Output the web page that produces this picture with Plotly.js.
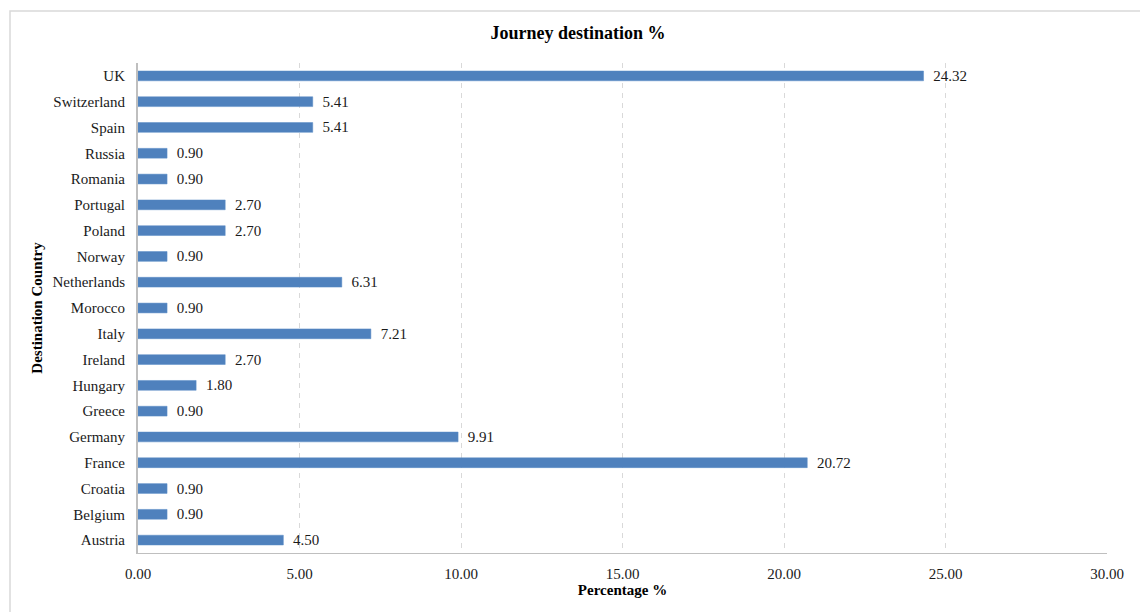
<!DOCTYPE html>
<html>
<head>
<meta charset="utf-8">
<script src="https://cdn.plot.ly/plotly-3.0.1.min.js"></script>
<style>
  html, body { margin: 0; padding: 0; background: #ffffff; }
  #chart { width: 1140px; height: 612px; }
</style>
</head>
<body>
<div id="chart"></div>
<script>
// Share of journeys by destination country (%), listed bottom to top
const countries = [
  "Austria", "Belgium", "Croatia", "France", "Germany", "Greece", "Hungary",
  "Ireland", "Italy", "Morocco", "Netherlands", "Norway", "Poland", "Portugal",
  "Romania", "Russia", "Spain", "Switzerland", "UK"
];
const percentages = [
  4.50, 0.90, 0.90, 20.72, 9.91, 0.90, 1.80,
  2.70, 7.21, 0.90, 6.31, 0.90, 2.70, 2.70,
  0.90, 0.90, 5.41, 5.41, 24.32
];
const xTicks = [0, 5, 10, 15, 20, 25, 30];
const xTickLabels = ["0.00", "5.00", "10.00", "15.00", "20.00", "25.00", "30.00"];

const serif = "'Liberation Serif', 'Times New Roman', serif";

const trace = {
  type: "bar",
  orientation: "h",
  x: percentages,
  y: countries,
  width: 0.38,
  marker: { color: "#4f81bd", line: { color: "#5b8cc6", width: 0.5 } },
  text: percentages.map(v => "\u00a0\u2009" + v.toFixed(2)),
  textposition: "outside",
  constraintext: "none",
  cliponaxis: false,
  textfont: { family: serif, size: 15, color: "#1a1a1a" },
  hoverinfo: "x+y"
};

const layout = {
  width: 1140,
  height: 612,
  margin: { l: 138, r: 33, t: 63, b: 59 },
  paper_bgcolor: "#ffffff",
  plot_bgcolor: "#ffffff",
  showlegend: false,
  font: { family: serif, size: 15, color: "#1a1a1a" },
  title: {
    text: "<b>Journey destination %</b>",
    font: { family: serif, size: 18, color: "#000000" },
    x: 0.507, xref: "container", xanchor: "center",
    y: 0.946, yref: "container", yanchor: "middle"
  },
  xaxis: {
    range: [0, 30],
    tickvals: xTicks,
    ticktext: xTickLabels,
    showgrid: true,
    gridcolor: "#d9d9d9",
    griddash: "5px,5px",
    gridwidth: 1,
    zeroline: false,
    showline: true,
    linecolor: "#bfbfbf",
    linewidth: 1,
    ticks: "",
    ticklabelstandoff: 7,
    tickfont: { family: serif, size: 15, color: "#1a1a1a" },
    title: {
      text: "<b>Percentage %</b>",
      font: { family: serif, size: 15, color: "#000000" },
      standoff: 3
    },
    fixedrange: true
  },
  yaxis: {
    type: "category",
    categoryorder: "array",
    categoryarray: countries,
    showgrid: false,
    zeroline: false,
    showline: true,
    linecolor: "#bfbfbf",
    linewidth: 2,
    ticks: "",
    ticklabelstandoff: 8,
    tickfont: { family: serif, size: 15, color: "#1a1a1a" },
    title: {
      text: "<b>Destination Country</b>",
      font: { family: serif, size: 15, color: "#000000" },
      standoff: 6
    },
    fixedrange: true
  },
  shapes: [{
    type: "rect",
    xref: "paper", yref: "paper",
    x0: -0.1321, x1: 1.05,
    y0: -0.14, y1: 1.106,
    line: { color: "#d9d9d9", width: 1.5 },
    fillcolor: "rgba(0,0,0,0)",
    layer: "below"
  }]
};

Plotly.newPlot("chart", [trace], layout, { displayModeBar: false, staticPlot: true });
</script>
</body>
</html>
